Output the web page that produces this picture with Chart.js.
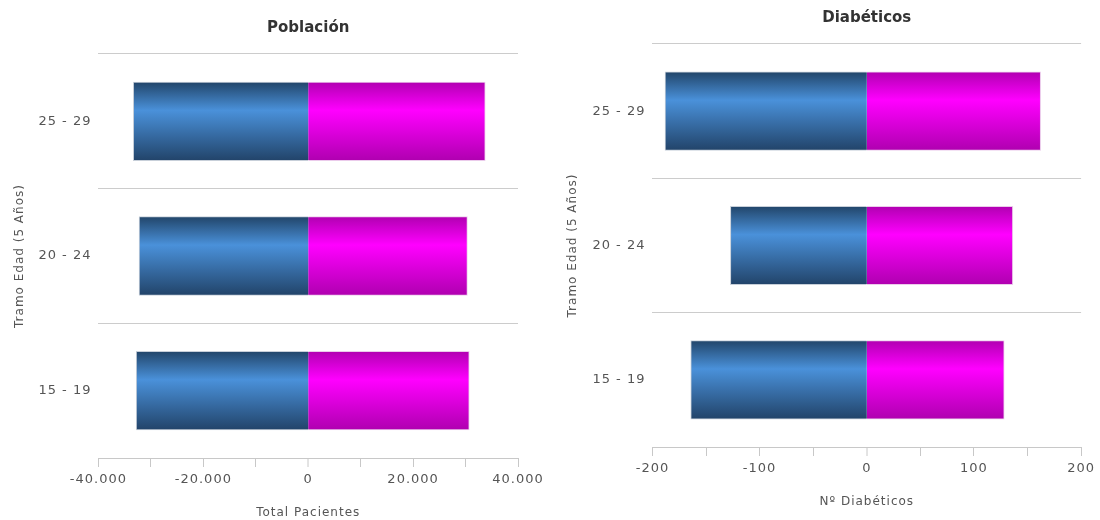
<!DOCTYPE html>
<html>
<head>
<meta charset="utf-8">
<script src="https://cdn.jsdelivr.net/npm/chart.js@4/dist/chart.umd.min.js"></script>
<style>
  body { margin: 0; background: #fff; }
  .box { position: absolute; top: 0; width: 550px; height: 520px; }
</style>
</head>
<body>
<div class="box" style="left:0"><canvas id="poblacion"></canvas></div>
<div class="box" style="left:550px"><canvas id="diabeticos"></canvas></div>
<script>
var categorias = ['25 - 29', '20 - 24', '15 - 19'];

var poblacionHombres = [-33300, -32200, -32750];
var poblacionMujeres = [33700, 30300, 30650];
var poblacionTicks = [-40000, -20000, 0, 20000, 40000];

var diabeticosHombres = [-188, -127, -164];
var diabeticosMujeres = [162, 136, 128];
var diabeticosTicks = [-200, -100, 0, 100, 200];

var FONT = "'DejaVu Sans', sans-serif";
var BAR_PCT = 0.58;

function numberWithDots(x) {
  return x.toString().replace(/\B(?=(\d{3})+(?!\d))/g, ".");
}

// vertical gradient per bar, dark at the edges and light a bit above the middle
function gradient(colors) {
  return function (context) {
    var chart = context.chart;
    var area = chart.chartArea;
    if (!area || context.type !== 'data') return colors[1];
    var y = chart.scales.y.getPixelForValue(context.dataIndex);
    var h = (area.bottom - area.top) / categorias.length * BAR_PCT;
    var g = chart.ctx.createLinearGradient(0, y - h / 2, 0, y + h / 2);
    g.addColorStop(0, colors[0]);
    g.addColorStop(0.36, colors[1]);
    g.addColorStop(1, colors[2]);
    return g;
  };
}

// the original text is a bit looser than DejaVu
var spacingPlugin = {
  id: 'spacing',
  beforeUpdate: function (chart) { chart.ctx.letterSpacing = '1px'; },
  beforeDraw: function (chart) { chart.ctx.letterSpacing = '1px'; }
};

var tituloPlugin = {
  id: 'tituloArea',
  afterDraw: function (chart, args, opts) {
    var ctx = chart.ctx;
    var area = chart.chartArea;
    ctx.save();
    ctx.letterSpacing = '0px';
    ctx.font = 'bold 15px ' + FONT;
    ctx.fillStyle = '#333';
    ctx.textAlign = 'center';
    ctx.textBaseline = 'middle';
    ctx.fillText(opts.text, (area.left + area.right) / 2, opts.y);
    ctx.restore();
  }
};

function makeChart(id, titulo, tituloY, hombres, mujeres, ticks, step, xTitle, padding, yTitlePad) {
  return new Chart(document.getElementById(id), {
    type: 'bar',
    data: {
      labels: categorias,
      datasets: [{
        label: 'Hombres',
        data: hombres,
        backgroundColor: gradient(['#22466b', '#4a91da', '#22446a']),
        borderColor: 'rgba(185,195,208,0.8)',
        borderWidth: { top: 1, bottom: 1, left: 1, right: 0 },
        borderSkipped: false,
        inflateAmount: 0.6
      }, {
        label: 'Mujeres',
        data: mujeres,
        backgroundColor: gradient(['#b200b2', '#ff00ff', '#b000b0']),
        borderColor: 'rgba(230,190,230,0.8)',
        borderWidth: { top: 1, bottom: 1, left: 0, right: 1 },
        borderSkipped: false,
        inflateAmount: 0.6
      }]
    },
    plugins: [spacingPlugin, tituloPlugin],
    options: {
      indexAxis: 'y',
      responsive: true,
      maintainAspectRatio: false,
      animation: false,
      barPercentage: BAR_PCT,
      categoryPercentage: 1,
      layout: { padding: padding },
      plugins: {
        legend: { display: false },
        tooltip: { enabled: false },
        tituloArea: { text: titulo, y: tituloY }
      },
      scales: {
        x: {
          stacked: true,
          min: ticks[0],
          max: ticks[ticks.length - 1],
          border: { color: '#c8c8c8' },
          grid: {
            drawOnChartArea: false,
            drawTicks: true,
            tickLength: 9,
            color: '#c8c8c8',
            tickWidth: 1,
            // no line width at zero, otherwise the bars leave a gap there
            lineWidth: function (c) { return c.tick && c.tick.value === 0 ? 0 : 1; }
          },
          ticks: {
            stepSize: step,
            autoSkip: false,
            maxRotation: 0,
            color: '#555',
            font: { family: FONT, size: 13 },
            padding: 5,
            callback: function (value) {
              return ticks.indexOf(value) >= 0 ? numberWithDots(value) : '';
            }
          },
          title: {
            display: true,
            text: xTitle,
            color: '#555',
            font: { family: FONT, size: 12 },
            padding: { top: 13, bottom: 0 }
          }
        },
        y: {
          stacked: true,
          border: { display: false },
          grid: { offset: true, drawTicks: false, color: '#cccccc' },
          ticks: {
            color: '#555',
            font: { family: FONT, size: 13 },
            padding: 7
          },
          title: {
            display: true,
            text: 'Tramo Edad (5 Años)',
            color: '#555',
            font: { family: FONT, size: 12 },
            padding: { top: 0, bottom: yTitlePad }
          }
        }
      }
    }
  });
}

makeChart('poblacion', 'Población', 28, poblacionHombres, poblacionMujeres, poblacionTicks, 10000,
  'Total Pacientes', { top: 54, left: 13, right: 32, bottom: 0 }, 4);
makeChart('diabeticos', 'Diabéticos', 18, diabeticosHombres, diabeticosMujeres, diabeticosTicks, 50,
  'Nº Diabéticos', { top: 44, left: 16, right: 18, bottom: 11 }, 5);
</script>
</body>
</html>
